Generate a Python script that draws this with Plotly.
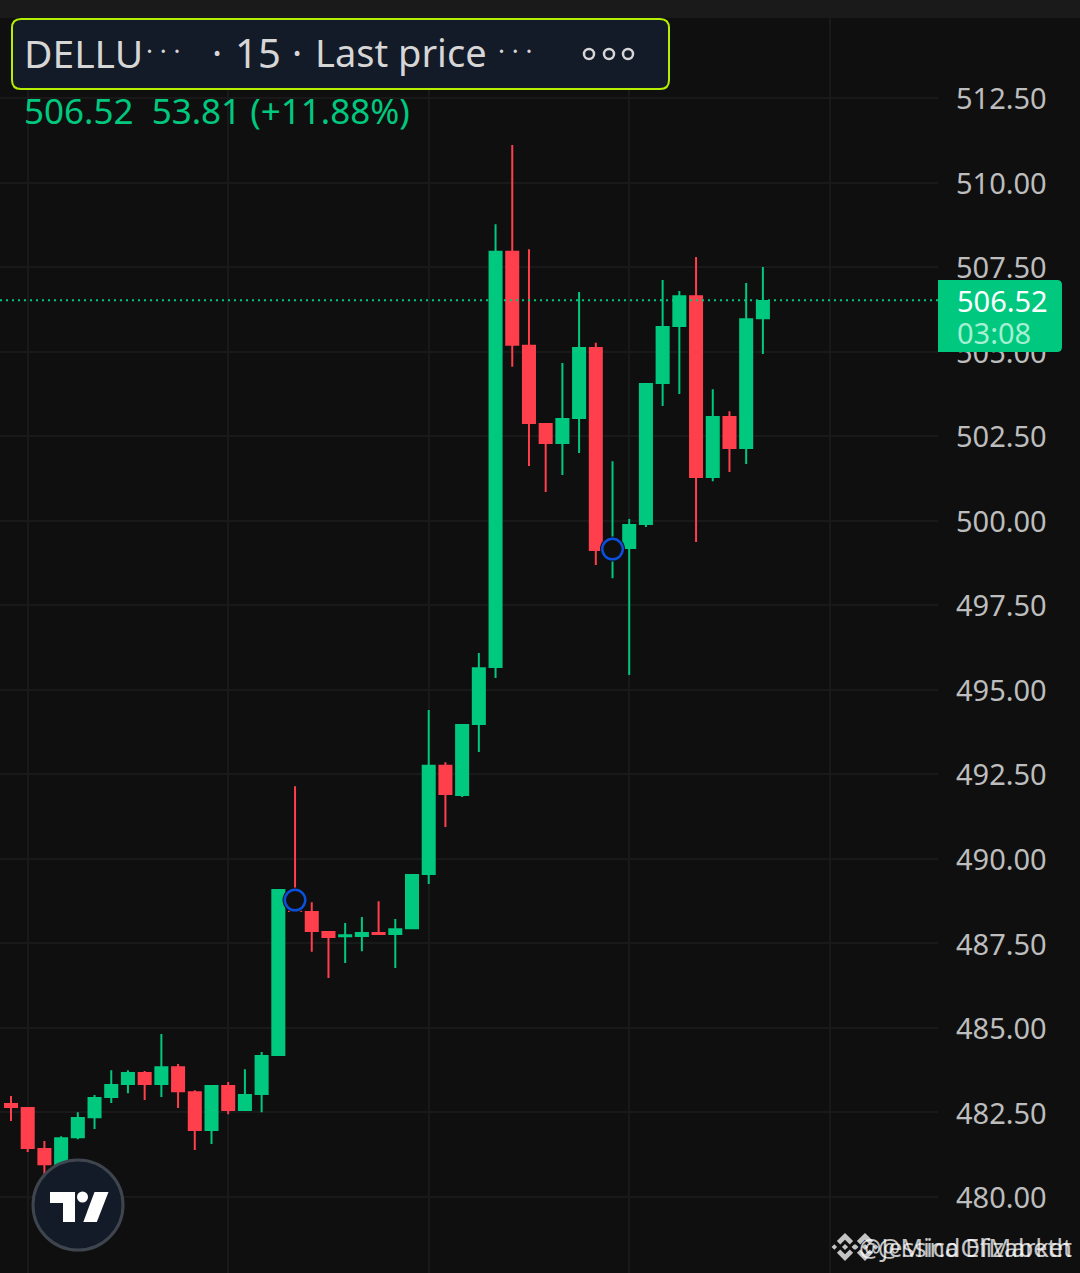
import plotly.graph_objects as go

W, H = 1080, 1273
PLOT_W = 938

UP = "#00c97f"
DOWN = "#ff3f4c"
BG = "#0f0f0f"
GRID = "#191919"
PANEL = "#131a28"
FONT = "Noto Sans"

candle_idx = list(range(46))
opens = [482.75, 482.63, 481.42, 480.97, 481.77, 482.36, 482.96, 483.34, 483.67, 483.34,
         483.84, 483.10, 481.98, 483.28, 482.57, 483.05, 484.20, 488.96, 488.43, 487.84,
         487.71, 487.72, 487.81, 487.78, 487.95, 489.55, 492.75, 491.89, 493.99, 495.67,
         507.95, 505.17, 502.86, 502.30, 503.04, 505.11, 499.10, 499.19, 499.90, 504.07,
         505.76, 506.64, 501.29, 503.07, 502.15, 505.99]
highs = [482.99, 482.66, 481.66, 481.80, 482.51, 483.02, 483.75, 483.75, 483.73, 484.82,
         483.93, 483.16, 483.31, 483.40, 483.78, 484.29, 489.11, 492.15, 488.72, 487.87,
         488.10, 488.28, 488.75, 488.22, 489.55, 494.40, 492.86, 493.99, 496.09, 508.77,
         511.11, 508.03, 502.89, 504.66, 506.76, 505.26, 501.76, 500.05, 504.07, 507.12,
         506.79, 507.80, 503.89, 503.24, 507.03, 507.50]
lows = [482.25, 481.33, 480.47, 480.56, 481.71, 482.01, 482.78, 483.07, 482.87, 482.96,
        482.63, 481.39, 481.57, 482.45, 482.54, 482.51, 484.17, 488.43, 487.25, 486.48,
        486.92, 487.27, 487.75, 486.77, 487.92, 489.26, 490.94, 491.83, 493.16, 495.35,
        504.55, 501.62, 500.85, 501.35, 502.00, 498.69, 498.30, 495.44, 499.81, 503.39,
        503.75, 499.37, 501.17, 501.44, 501.68, 504.93]
closes = [482.66, 481.45, 480.97, 481.74, 482.34, 482.93, 483.31, 483.67, 483.34, 483.84,
          483.13, 481.98, 483.28, 482.57, 483.02, 484.17, 489.08, 488.46, 487.87, 487.69,
          487.74, 487.81, 487.78, 487.92, 489.52, 492.75, 491.92, 493.96, 495.64, 507.95,
          505.20, 502.89, 502.30, 503.01, 505.11, 499.13, 499.16, 499.87, 504.04, 505.73,
          506.64, 501.29, 503.07, 502.15, 505.96, 506.50]

marker_idx = [17, 36]
marker_price = [488.78, 499.16]

price_ticks = [480.0, 482.5, 485.0, 487.5, 490.0, 492.5, 495.0, 497.5, 500.0, 502.5, 505.0,
               507.5, 510.0, 512.5]
time_ticks = [1, 13, 25, 37, 49]
last_price = 506.52


def px(x):
    return x / PLOT_W


def py(y):
    return 1 - y / H


def pth(points):
    return "M" + " L".join(f"{px(x):.5f},{py(y):.5f}" for x, y in points) + " Z"


def rrect(x0, y0, x1, y1, r, left=True):
    # rounded rectangle in page pixels, left corners optional
    rl = r if left else 0
    return (
        f"M{px(x0 + rl):.5f},{py(y0):.5f} L{px(x1 - r):.5f},{py(y0):.5f} "
        f"Q{px(x1):.5f},{py(y0):.5f} {px(x1):.5f},{py(y0 + r):.5f} "
        f"L{px(x1):.5f},{py(y1 - r):.5f} Q{px(x1):.5f},{py(y1):.5f} {px(x1 - r):.5f},{py(y1):.5f} "
        f"L{px(x0 + rl):.5f},{py(y1):.5f} Q{px(x0):.5f},{py(y1):.5f} {px(x0):.5f},{py(y1 - rl):.5f} "
        f"L{px(x0):.5f},{py(y0 + rl):.5f} Q{px(x0):.5f},{py(y0):.5f} {px(x0 + rl):.5f},{py(y0):.5f} Z"
    )


def circle(cx, cy, r, **kw):
    return dict(
        type="circle", xref="paper", yref="paper", layer="above",
        x0=px(cx - r), x1=px(cx + r), y0=py(cy + r), y1=py(cy - r), **kw
    )


def path(d, fill, line_color=None, line_width=0):
    return dict(
        type="path", xref="paper", yref="paper", layer="above", path=d, fillcolor=fill,
        line=dict(color=line_color or fill, width=line_width),
    )


def label(x, y, text, size, color, anchor="left"):
    return dict(
        xref="paper", yref="paper", x=px(x), y=py(y), text=text, showarrow=False,
        xanchor=anchor, yanchor="middle", borderpad=0, borderwidth=0,
        font=dict(family=FONT, size=size, color=color),
    )


def binance_logo(cx, cy, s, color):
    shapes = []
    for dx, half in [(0, 0.22), (-0.76, 0.2), (0.76, 0.2)]:
        shapes.append(path(pth([(cx + (dx - half) * s, cy), (cx + dx * s, cy - half * s),
                                (cx + (dx + half) * s, cy), (cx + dx * s, cy + half * s)]), color))
    for sign in (-1, 1):
        shapes.append(path(pth([
            (cx, cy + sign * s), (cx + 0.58 * s, cy + sign * 0.42 * s), (cx + 0.34 * s, cy + sign * 0.18 * s),
            (cx, cy + sign * 0.52 * s), (cx - 0.34 * s, cy + sign * 0.18 * s), (cx - 0.58 * s, cy + sign * 0.42 * s),
        ]), color))
    return shapes


fig = go.Figure()
fig.add_trace(
    go.Candlestick(
        x=candle_idx, open=opens, high=highs, low=lows, close=closes,
        increasing=dict(line=dict(color=UP, width=2), fillcolor=UP),
        decreasing=dict(line=dict(color=DOWN, width=2), fillcolor=DOWN),
        whiskerwidth=0, hoverinfo="skip", showlegend=False,
    )
)
# dark halo + blue ring on the two event candles
fig.add_trace(
    go.Scatter(
        x=marker_idx, y=marker_price, mode="markers", hoverinfo="skip", showlegend=False,
        marker=dict(size=25, color=BG, line=dict(width=0)),
    )
)
fig.add_trace(
    go.Scatter(
        x=marker_idx, y=marker_price, mode="markers", hoverinfo="skip", showlegend=False,
        marker=dict(size=20.5, color=BG, line=dict(color="#0b50dc", width=2.5)),
    )
)

shapes = [
    dict(type="line", xref="paper", yref="y", x0=0, x1=1, y0=last_price, y1=last_price, layer="above",
         line=dict(color=UP, width=2, dash="2px,4px")),
    # top status strip
    dict(type="rect", xref="paper", yref="paper", layer="above", x0=0, x1=px(W), y0=py(18), y1=1,
         fillcolor="#1a1a1a", line=dict(width=0)),
    # title panel
    path(rrect(12, 19, 669, 89, 9), PANEL, "#b4f000", 2),
    # last price badge
    path(rrect(938, 280, 1062, 352, 5, left=False), UP),
    # tradingview button
    circle(78, 1205, 45, fillcolor=PANEL, line=dict(color="#3f454e", width=3)),
    path(pth([(50, 1192), (75, 1192), (75, 1222), (63, 1222), (63, 1203), (50, 1203)]), "#ffffff"),
    circle(82.5, 1197, 5.5, fillcolor="#ffffff", line=dict(width=0)),
    path(pth([(94.5, 1192), (108.5, 1192), (96.8, 1222), (83.3, 1222)]), "#ffffff"),
]
for cx in (589, 609, 628):
    shapes.append(circle(cx, 54, 5, fillcolor="rgba(0,0,0,0)", line=dict(color="#d6d6d6", width=2.5)))
shapes += binance_logo(845, 1247, 14, "#c4c4c4")
shapes += binance_logo(865, 1247, 14, "#c4c4c4")

annotations = [
    label(24, 52, "DELLU", 39, "#d6d6d6"),
    label(163, 50, "· · ·", 26, "#d6d6d6", anchor="center"),
    label(212, 52, "·", 38, "#d6d6d6"),
    label(235, 52, "15", 40, "#d6d6d6"),
    label(292, 52, "·", 38, "#d6d6d6"),
    label(315, 52, "Last price", 38, "#d6d6d6"),
    label(515, 50, "· · ·", 26, "#d6d6d6", anchor="center"),
    label(24, 111, "506.52  53.81 (+11.88%)", 35, UP),
    label(957, 301, "506.52", 29, "#ffffff"),
    label(957, 332, "03:08", 29, "#a5efd2"),
    label(956, 1282, "477.50", 29, "#bdbdbd"),
    label(1072, 1247, "@Jessica Elizabeth", 25, "rgba(255,255,255,0.75)", anchor="right"),
    label(1072, 1247, "@MindOfMarket", 25, "rgba(255,255,255,0.75)", anchor="right"),
]

fig.update_layout(
    width=W, height=H, margin=dict(l=0, r=W - PLOT_W, t=0, b=0),
    paper_bgcolor=BG, plot_bgcolor=BG, showlegend=False, boxgap=0.28, boxgroupgap=0,
    shapes=shapes, annotations=annotations, hovermode=False,
    xaxis=dict(
        range=[-0.658, 55.48], tickvals=time_ticks, showticklabels=False, ticks="", showgrid=True,
        gridcolor=GRID, gridwidth=2, zeroline=False, showline=False, rangeslider=dict(visible=False),
    ),
    yaxis=dict(
        range=[477.753, 515.398], side="right", tickvals=price_ticks, tickformat=".2f", ticks="", ticklen=0,
        ticklabelstandoff=17, ticklabelshift=1, showgrid=True, gridcolor=GRID, gridwidth=2, zeroline=False,
        showline=False, tickfont=dict(family=FONT, size=29, color="#bdbdbd"),
    ),
)

fig.write_html(
    "out.html", config=dict(displayModeBar=False),
    post_script="document.body.style.margin='0';document.documentElement.style.overflow='hidden';",
)
